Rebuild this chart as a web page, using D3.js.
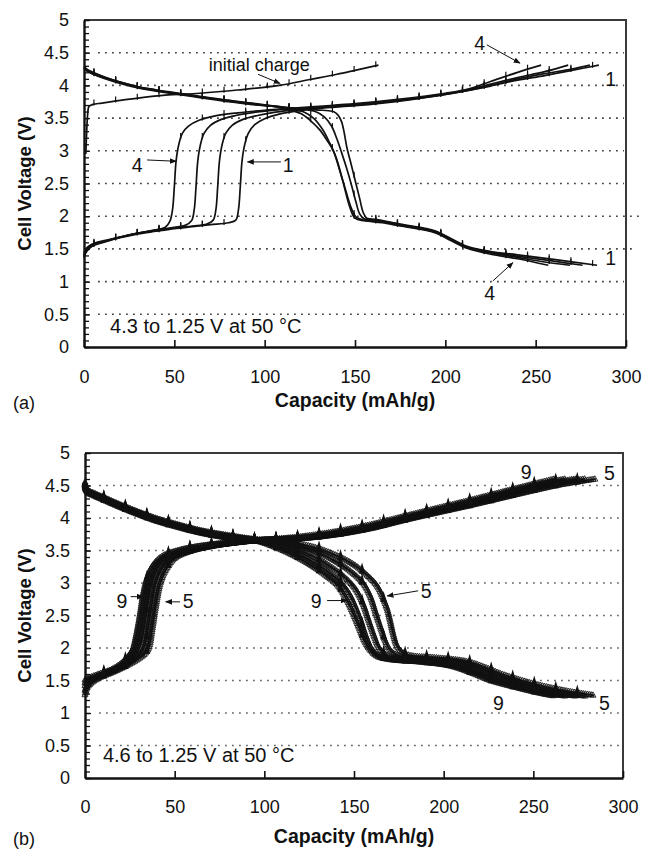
<!DOCTYPE html>
<html><head><meta charset="utf-8">
<script src="https://cdn.jsdelivr.net/npm/d3@7"></script>
<style>
body{margin:0;background:#fff;}
svg text{font-family:"Liberation Sans",Arial,Helvetica,sans-serif;fill:#111;}
</style></head><body>
<svg id="c" width="645" height="850"></svg>
<script>
// ---------- axes ----------
const xTicks = [0, 50, 100, 150, 200, 250, 300];
const yTicks = [0, 0.5, 1, 1.5, 2, 2.5, 3, 3.5, 4, 4.5, 5];
const yTickLabels = ["0", "0.5", "1", "1.5", "2", "2.5", "3", "3.5", "4", "4.5", "5"];
const yGrid = [0.5, 1, 1.5, 2, 2.5, 3, 3.5, 4, 4.5];
const xTitle = "Capacity (mAh/g)";
const yTitle = "Cell Voltage (V)";

// ---------- panel (a): 4.3 to 1.25 V, cycles 1-4 ----------
const aInitialCharge = [[1,2.95],[1.5,3.3],[2,3.55],[2.8,3.68],[5,3.71],[10,3.73],[20,3.77],[31,3.81],[45,3.85],[64,3.88],[85,3.93],[108,4.0],[125,4.09],[140,4.17],[150,4.23],[163,4.31]];
const aCharge1 = [[0,1.36],[1,1.44],[3,1.51],[6,1.56],[12,1.61],[20,1.67],[30,1.73],[40,1.77],[50,1.81],[60,1.84],[70,1.87],[80,1.9],[84,1.94],[85.5,2.1],[86.5,2.45],[87.5,2.85],[89,3.1],[91,3.27],[94.5,3.4],[100,3.49],[108,3.56],[118,3.61],[130,3.65],[150,3.69],[165,3.73],[180,3.78],[195,3.84],[212,3.92],[225,3.99],[240,4.08],[255,4.15],[270,4.23],[285,4.31]];
const aCharge2 = [[0,1.38],[1,1.46],[3,1.53],[6,1.57],[12,1.62],[20,1.68],[30,1.74],[40,1.78],[50,1.82],[60,1.85],[68,1.88],[71.5,1.94],[73,2.1],[74,2.45],[75,2.85],[76.5,3.1],[78.5,3.27],[82,3.39],[88,3.48],[96,3.54],[106,3.59],[118,3.63],[135,3.67],[155,3.71],[175,3.77],[195,3.84],[212,3.92],[225,4.0],[240,4.1],[255,4.18],[270,4.25],[280,4.31]];
const aCharge3 = [[0,1.4],[1,1.48],[3,1.54],[6,1.58],[12,1.62],[20,1.68],[30,1.74],[40,1.79],[50,1.83],[56,1.86],[59.5,1.93],[61,2.1],[62,2.45],[63,2.85],[64.5,3.1],[66.5,3.27],[70,3.39],[76,3.48],[84,3.54],[95,3.59],[108,3.63],[120,3.65],[140,3.69],[160,3.73],[180,3.79],[200,3.87],[212,3.93],[225,4.02],[240,4.12],[255,4.21],[268,4.31]];
const aCharge4 = [[0,1.42],[1,1.5],[3,1.55],[6,1.59],[12,1.63],[20,1.68],[30,1.74],[40,1.79],[45,1.83],[47.5,1.92],[49,2.1],[50,2.45],[51,2.85],[52.5,3.1],[54.5,3.27],[58,3.38],[64,3.47],[72,3.53],[85,3.58],[100,3.62],[115,3.65],[130,3.68],[150,3.72],[175,3.79],[200,3.88],[212,3.94],[225,4.06],[240,4.2],[253,4.31]];
const aDischarge1 = [[0,4.29],[2,4.24],[5,4.2],[12,4.12],[20,4.05],[30,3.98],[40,3.93],[50,3.89],[65,3.83],[80,3.77],[95,3.72],[110,3.67],[122,3.64],[132,3.62],[138,3.6],[140.5,3.55],[142.5,3.45],[144,3.28],[145.5,3.05],[148,2.78],[150.5,2.5],[152.5,2.28],[154.5,2.06],[156.5,1.97],[162,1.95],[175,1.88],[188,1.82],[195,1.77],[203,1.66],[212,1.54],[225,1.46],[240,1.41],[260,1.34],[284,1.25]];
const aDischarge2 = [[0,4.28],[2,4.23],[5,4.19],[12,4.12],[20,4.05],[30,3.98],[40,3.93],[50,3.88],[65,3.82],[80,3.77],[95,3.71],[110,3.67],[120,3.64],[128,3.6],[133,3.52],[137,3.38],[140,3.18],[142.5,2.98],[145.5,2.72],[148,2.48],[150.5,2.22],[152.5,2.04],[155,1.96],[162,1.94],[175,1.87],[188,1.81],[195,1.76],[203,1.65],[212,1.53],[225,1.45],[240,1.39],[258,1.32],[276,1.25]];
const aDischarge3 = [[0,4.27],[2,4.22],[5,4.18],[12,4.11],[20,4.04],[30,3.97],[40,3.92],[50,3.88],[65,3.82],[80,3.76],[95,3.71],[108,3.67],[115,3.64],[122,3.59],[127,3.5],[132,3.33],[136,3.12],[139.5,2.9],[142.5,2.62],[145,2.38],[148,2.12],[150.5,1.99],[155,1.94],[163,1.92],[175,1.86],[188,1.8],[195,1.75],[203,1.64],[212,1.52],[225,1.44],[240,1.37],[255,1.3],[269,1.25]];
const aDischarge4 = [[0,4.26],[2,4.21],[5,4.17],[12,4.1],[20,4.03],[30,3.96],[40,3.91],[50,3.87],[65,3.81],[80,3.75],[95,3.7],[105,3.68],[113,3.63],[120,3.57],[125,3.47],[130.5,3.32],[134.5,3.16],[138,3.0],[141,2.75],[143.6,2.5],[147,2.15],[150,1.97],[155,1.93],[165,1.9],[175,1.85],[188,1.79],[195,1.74],[203,1.63],[212,1.51],[225,1.42],[240,1.35],[257,1.25]];

// ---------- panel (b): 4.6 to 1.25 V, cycles 5-9 ----------
const bCharge5 = [[0,1.28],[1,1.38],[3,1.45],[8,1.54],[15,1.62],[22,1.71],[28,1.8],[33,1.9],[35.5,2.0],[37.5,2.3],[39.5,2.65],[42,3.0],[45,3.2],[50,3.38],[58,3.48],[70,3.56],[85,3.62],[100,3.66],[120,3.68],[140,3.74],[160,3.84],[176,3.95],[195,4.07],[213,4.18],[230,4.29],[250,4.42],[265,4.51],[285,4.6]];
const bCharge6 = [[0,1.35],[1,1.42],[3,1.48],[8,1.56],[15,1.64],[22,1.73],[27,1.83],[31.5,1.93],[33.5,2.05],[35.5,2.35],[37.5,2.7],[39.5,3.0],[42.5,3.2],[48,3.38],[57,3.48],[70,3.56],[85,3.62],[100,3.66],[120,3.68],[140,3.75],[160,3.85],[176,3.96],[195,4.09],[213,4.2],[230,4.31],[250,4.45],[265,4.54],[279,4.6]];
const bCharge7 = [[0,1.42],[1,1.47],[3,1.51],[8,1.57],[15,1.65],[22,1.74],[26,1.84],[29.5,1.95],[31.5,2.1],[33.5,2.4],[35.5,2.75],[37.5,3.02],[40.5,3.22],[46,3.39],[55,3.49],[68,3.56],[85,3.62],[100,3.66],[120,3.69],[140,3.76],[160,3.86],[176,3.97],[195,4.1],[213,4.21],[230,4.33],[250,4.47],[265,4.56],[274,4.6]];
const bCharge8 = [[0,1.47],[1,1.5],[3,1.53],[8,1.58],[15,1.66],[21,1.75],[25,1.86],[28,1.97],[30,2.15],[32,2.45],[34,2.8],[36,3.04],[39,3.24],[44,3.4],[53,3.5],[66,3.57],[85,3.63],[100,3.66],[120,3.69],[140,3.77],[160,3.88],[176,3.99],[195,4.12],[213,4.24],[230,4.36],[250,4.5],[268,4.6]];
const bCharge9 = [[0,1.51],[1,1.53],[3,1.55],[8,1.6],[15,1.67],[20,1.76],[24,1.87],[26.5,1.98],[28.5,2.2],[30.5,2.5],[32.5,2.85],[34.5,3.07],[37.5,3.26],[43,3.41],[52,3.5],[65,3.57],[85,3.63],[100,3.66],[120,3.71],[140,3.79],[160,3.9],[176,4.01],[195,4.14],[213,4.26],[230,4.38],[250,4.52],[262,4.6]];
const bDischarge5 = [[0,4.55],[0.5,4.48],[2,4.42],[5,4.38],[10,4.32],[20,4.2],[30,4.09],[40,3.99],[50,3.91],[64,3.81],[80,3.73],[95,3.67],[110,3.64],[120,3.6],[130,3.53],[142,3.4],[150,3.28],[158,3.1],[163,2.95],[166,2.78],[168.5,2.6],[170,2.44],[172,2.2],[174,2.03],[177,1.93],[182,1.88],[195,1.85],[213,1.79],[225,1.68],[232,1.6],[250,1.45],[268,1.34],[284,1.27]];
const bDischarge6 = [[0,4.53],[0.5,4.46],[2,4.41],[5,4.37],[10,4.31],[20,4.19],[30,4.08],[40,3.98],[50,3.9],[64,3.8],[80,3.72],[95,3.66],[110,3.62],[120,3.56],[130,3.47],[140,3.33],[148,3.18],[155,3.0],[159,2.8],[162,2.55],[165,2.3],[168,2.07],[171,1.94],[176,1.87],[190,1.83],[210,1.78],[223,1.66],[232,1.56],[248,1.42],[265,1.31],[279,1.26]];
const bDischarge7 = [[0,4.52],[0.5,4.45],[2,4.4],[5,4.36],[10,4.3],[20,4.18],[30,4.07],[40,3.97],[50,3.89],[64,3.79],[80,3.71],[95,3.66],[108,3.6],[118,3.52],[128,3.4],[137,3.25],[145,3.08],[151,2.9],[155,2.68],[158,2.44],[161,2.2],[164,2.0],[168,1.89],[175,1.84],[190,1.8],[207,1.75],[220,1.63],[230,1.52],[246,1.4],[262,1.3],[274,1.26]];
const bDischarge8 = [[0,4.51],[0.5,4.44],[2,4.39],[5,4.35],[10,4.29],[20,4.17],[30,4.06],[40,3.96],[50,3.88],[64,3.78],[80,3.7],[95,3.65],[106,3.58],[116,3.48],[125,3.36],[134,3.2],[142,3.02],[147,2.85],[151,2.62],[154,2.4],[157,2.16],[160,1.98],[164,1.88],[172,1.83],[188,1.79],[205,1.73],[218,1.62],[228,1.51],[244,1.39],[260,1.29],[268,1.26]];
const bDischarge9 = [[0,4.5],[0.5,4.43],[2,4.38],[5,4.34],[10,4.28],[20,4.16],[30,4.05],[40,3.95],[50,3.87],[64,3.77],[80,3.69],[95,3.65],[105,3.56],[115,3.44],[125,3.29],[135,3.1],[141,2.96],[146,2.74],[150,2.5],[153,2.3],[156,2.1],[159,1.97],[163,1.87],[170,1.82],[188,1.78],[204,1.72],[216,1.61],[226,1.5],[242,1.38],[256,1.29],[262,1.26]];

// ---------- annotations (data coordinates) ----------
const aNotes = [
  {t:"initial charge", c:97, v:4.22},
  {t:"4", c:219, v:4.54}, {t:"1", c:291.5, v:3.99},
  {t:"1", c:291.5, v:1.25}, {t:"4", c:224.5, v:0.72},
  {t:"4", c:29.5, v:2.68}, {t:"1", c:113, v:2.68}
];
const aArrows = [[96.3,4.17,108.5,4.03],[223,4.62,241.3,4.34],[226.3,1.01,237.4,1.29],[34.9,2.86,51,2.84],[109,2.83,90.5,2.83]];
const aCondition = {t:"4.3 to 1.25 V at 50 °C", c:14.4, v:0.21};
const bNotes = [
  {t:"9", c:20.6, v:2.62}, {t:"5", c:57.5, v:2.62},
  {t:"9", c:128.9, v:2.62}, {t:"5", c:190.3, v:2.77},
  {t:"9", c:246, v:4.6}, {t:"5", c:292.4, v:4.58},
  {t:"9", c:230.5, v:1.05}, {t:"5", c:289.6, v:1.05}
];
const bArrows = [[25.5,2.79,32.5,2.79],[53,2.71,45,2.71],[135,2.73,146,2.73],[185.8,2.88,168.5,2.8]];
const bCondition = {t:"4.6 to 1.25 V at 50 °C", c:10, v:0.24};

// ---------- drawing ----------
const svg = d3.select("#c");
const defs = svg.append("defs");
defs.append("marker").attr("id","ah").attr("viewBox","0 0 10 10").attr("refX",9).attr("refY",5)
  .attr("markerWidth",7).attr("markerHeight",7).attr("orient","auto-start-reverse").attr("markerUnits","userSpaceOnUse")
  .append("path").attr("d","M0,1L10,5L0,9Z").attr("fill","#111");

function pointAtX(node, px) {
  const L = node.getTotalLength();
  let lo = 0, hi = L;
  if (node.getPointAtLength(L).x < px) return null;
  for (let i = 0; i < 30; i++) {
    const m = (lo + hi) / 2;
    if (node.getPointAtLength(m).x < px) lo = m; else hi = m;
  }
  return node.getPointAtLength(hi);
}

function drawPanel(p) {
  const x = d3.scaleLinear().domain([0, 300]).range([p.left, p.right]);
  const y = d3.scaleLinear().domain([0, 5]).range([p.bottom, p.top]);
  const g = svg.append("g");

  // dotted grid
  g.selectAll(".grid").data(yGrid).join("line")
    .attr("x1", p.left + 14).attr("x2", d => x(300) + (p.ext && p.ext[d] ? p.ext[d] : -2))
    .attr("y1", d => y(d)).attr("y2", d => y(d))
    .attr("stroke", p.gridColor).attr("stroke-width", 1.6).attr("stroke-dasharray", "1.8,5.2");

  // frame top/right
  g.append("path").attr("d", `M${x(0)},${y(5)}H${x(300)}V${y(0)}`)
    .attr("fill","none").attr("stroke","#3a3a3a").attr("stroke-width",2);

  const line = d3.line().x(d => x(d[0])).y(d => y(d[1])).curve(d3.curveCatmullRom.alpha(0.5));
  const sg = g.append("g");
  p.series.forEach(s => {
    const path = sg.append("path").datum(s).attr("d", line)
      .attr("fill","none").attr("stroke","#111").attr("stroke-width", p.lineW).attr("stroke-linejoin","round");
    const node = path.node();
    if (p.texture) {
      const L = node.getTotalLength();
      const pts = d3.range(0, L, 1.9).map(l => node.getPointAtLength(l));
      sg.append("g").selectAll("path").data(pts).join("path")
        .attr("transform", d => `translate(${d.x},${d.y})`)
        .attr("d", "M0,-3.4L3,1.9L-3,1.9Z")
        .attr("fill","none").attr("stroke","#111").attr("stroke-width",0.85);
    }
    // periodic data markers every 12 mAh/g
    const last = s[s.length-1][0];
    const caps = d3.range(p.markOffset, last, 12);
    caps.forEach(c => {
      const pt = pointAtX(node, x(c));
      if (!pt) return;
      if (p.texture) {
        sg.append("path").attr("transform", `translate(${pt.x},${pt.y})`)
          .attr("d","M0,-8.5L3.2,2.5L-3.2,2.5Z").attr("fill","#111");
      } else {
        sg.append("line").attr("x1",pt.x).attr("x2",pt.x).attr("y1",pt.y-4.5).attr("y2",pt.y+1.5)
          .attr("stroke","#111").attr("stroke-width",1.2);
      }
    });
  });

  // axes
  const yMinor = d3.axisLeft(y).tickValues(d3.range(0, 5.001, 0.1)).tickSize(-5).tickFormat("");
  g.append("g").attr("transform", `translate(${x(0)},0)`).call(yMinor)
    .call(a => a.select(".domain").remove())
    .call(a => a.selectAll("line").attr("stroke","#111").attr("stroke-width",1.3));
  const yAxis = d3.axisLeft(y).tickValues(yTicks).tickFormat((d,i) => yTickLabels[i])
    .tickSizeInner(-6).tickSizeOuter(0).tickPadding(15);
  g.append("g").attr("transform", `translate(${x(0)},0)`).call(yAxis)
    .call(a => a.select(".domain").attr("stroke","#111").attr("stroke-width",2.4))
    .call(a => a.selectAll("line").attr("stroke","#111").attr("stroke-width",1.3))
    .call(a => a.selectAll("text").attr("font-size",18).attr("fill","#111"));
  const xAxis = d3.axisBottom(x).tickValues(xTicks).tickSizeInner(-7).tickSizeOuter(0).tickPadding(p.xPad);
  g.append("g").attr("transform", `translate(0,${y(0)})`).call(xAxis)
    .call(a => a.select(".domain").attr("stroke","#111").attr("stroke-width",2.4))
    .call(a => a.selectAll("line").attr("stroke","#111").attr("stroke-width",1.6))
    .call(a => a.selectAll("text").attr("font-size",18).attr("fill","#111"));

  // titles
  g.append("text").attr("x", (x(0)+x(300))/2).attr("y", p.xTitleY).attr("text-anchor","middle")
    .attr("font-size",19.5).attr("font-weight","bold").text(xTitle);
  g.append("text").attr("transform", `translate(31,${(y(0)+y(5))/2}) rotate(-90)`).attr("text-anchor","middle")
    .attr("font-size",18.5).attr("font-weight","bold").text(yTitle);
  g.append("text").attr("x", 13).attr("y", p.xTitleY + 2).attr("font-size",18).text(p.tag);

  // annotations
  g.append("text").attr("x", x(p.cond.c)).attr("y", y(p.cond.v)).attr("font-size",20).text(p.cond.t);
  g.selectAll(".note").data(p.notes).join("text")
    .attr("x", d => x(d.c)).attr("y", d => y(d.v)).attr("text-anchor","middle")
    .attr("font-size", d => d.t.length > 2 ? 18 : 19.5).text(d => d.t);
  g.selectAll(".arr").data(p.arrows).join("line")
    .attr("x1", d => x(d[0])).attr("y1", d => y(d[1])).attr("x2", d => x(d[2])).attr("y2", d => y(d[3]))
    .attr("stroke","#111").attr("stroke-width",1).attr("marker-end","url(#ah)");
}

drawPanel({
  left:84, right:626, top:20, bottom:347, xPad:23, xTitleY:407, tag:"(a)",
  gridColor:"#444", ext:{2:14, 1.5:6}, lineW:1.7, texture:false, markOffset:5.5,
  series:[aInitialCharge, aCharge1, aCharge2, aCharge3, aCharge4, aDischarge1, aDischarge2, aDischarge3, aDischarge4],
  notes:aNotes, arrows:aArrows, cond:aCondition
});
drawPanel({
  left:85, right:623, top:453, bottom:778, xPad:22, xTitleY:843, tag:"(b)",
  gridColor:"#666", ext:null, lineW:1.7, texture:true, markOffset:10.5,
  series:[bCharge5, bCharge6, bCharge7, bCharge8, bCharge9, bDischarge5, bDischarge6, bDischarge7, bDischarge8, bDischarge9],
  notes:bNotes, arrows:bArrows, cond:bCondition
});
</script>
</body></html>
